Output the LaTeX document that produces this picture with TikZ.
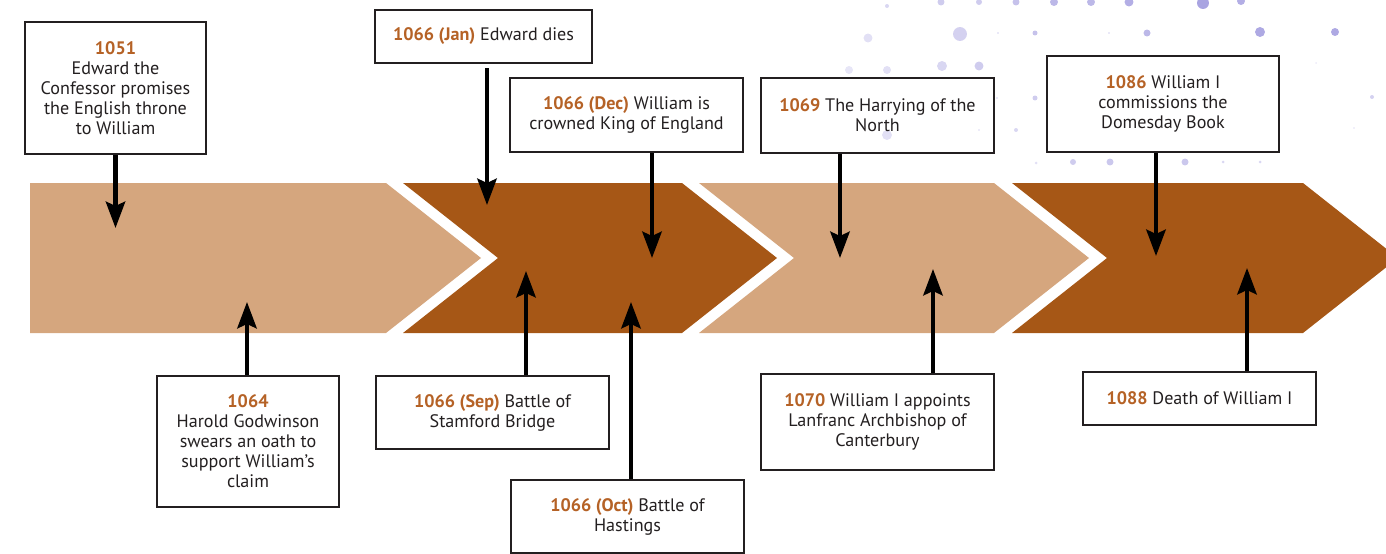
\documentclass[tikz,border=0pt]{standalone}
\usepackage{fontspec}
\setmainfont{PT Sans}
\usetikzlibrary{arrows.meta}
\definecolor{tanlight}{RGB}{213,166,126}
\definecolor{tandark}{RGB}{166,87,22}
\definecolor{yearcol}{RGB}{181,98,38}
\definecolor{inkcol}{RGB}{35,31,32}
\definecolor{dotcol}{RGB}{160,154,222}
\newcommand{\yr}[1]{\textcolor{yearcol}{\textbf{#1}}}
\begin{document}
\begin{tikzpicture}[x=0.02cm,y=-0.02cm,>={Stealth[length=15pt,width=11pt,inset=2.5pt]},
	font=\fontsize{10.3}{11.35}\selectfont,
	evbox/.style={draw=inkcol,line width=1.6pt,inner sep=0pt,align=center,text=inkcol},
	evarrow/.style={->,line width=2.3pt,black}]
	\useasboundingbox (0,0) rectangle (1386,554);
	\clip (0,0) rectangle (1386,554);
	
	% dots in the background
	\foreach \x/\y/\r/\o in {887/6/2/0.4, 941/2/3.5/0.5, 979/2/3/0.5, 1016/2/3.5/0.6, 1054/2/4/0.7, 1091/2/4/0.7,
		1129/2/4.5/0.8, 1203/3/6/0.9, 1241/1/4/0.8, 868/38/4.5/0.3, 960/34/7/0.45, 998/33/1.2/0.3,
		1035/33/2.5/0.6, 1109/33/1.2/0.3, 1147/33/3.5/0.7, 1260/32/5/0.85, 1335/32/4/0.85,
		849/70/4/0.25, 887/70/4/0.3, 942/66/5/0.4, 979/66/4.5/0.5, 997/98/1.2/0.3, 1035/98/2.5/0.5,
		1316/63/1/0.2, 1372/97/2/0.45, 1354/128/1.2/0.2, 887/135/5/0.3, 979/130/1.2/0.25,
		1016/130/2/0.4, 1036/163/1.5/0.3, 1073/162/3/0.5, 1110/162/3.5/0.55, 1185/162/3.5/0.55,
		1223/162/1.5/0.4, 1260/162/1.5/0.4}
		\fill[dotcol,opacity=\o] (\x,\y) circle[radius=\r*0.567pt];
	
	% chevrons
	\fill[tanlight] (30,183) -- (386,183) -- (481,258) -- (386,333) -- (30,333) -- cycle;
	\foreach \xl/\xr/\col in {403/682/tandark, 699/994/tanlight, 1012/1303/tandark}
		\fill[\col] (\xl,183) -- (\xr,183) -- (\xr+95,258) -- (\xr,333) -- (\xl,333) -- (\xl+95,258) -- cycle;
	
	% events above
	\node[evbox,minimum width=3.62cm,minimum height=2.64cm] (b1051) at (115.5,88)
		{\yr{1051}\\Edward the\\Confessor promises\\the English throne\\to William};
	\node[evbox,minimum width=4.34cm,minimum height=1.06cm] (bJan) at (483.5,36.5)
		{\yr{1066 (Jan)} Edward dies};
	\node[evbox,minimum width=4.66cm,minimum height=1.48cm] (bDec) at (626.5,115)
		{\yr{1066 (Dec)} William is\\crowned King of England};
	\node[evbox,minimum width=4.66cm,minimum height=1.5cm] (b1069) at (877.5,115.5)
		{\yr{1069} The Harrying of the\\North};
	\node[evbox,minimum width=4.64cm,minimum height=1.92cm] (b1086) at (1163,104)
		{\yr{1086} William I\\commissions the\\Domesday Book};
	
	% events below
	\node[evbox,minimum width=3.64cm,minimum height=2.62cm] (b1064) at (248,441.5)
		{\yr{1064}\\Harold Godwinson\\swears an oath to\\support William’s\\claim};
	\node[evbox,minimum width=4.66cm,minimum height=1.46cm] (bSep) at (492.5,412.5)
		{\yr{1066 (Sep)} Battle of\\Stamford Bridge};
	\node[evbox,minimum width=4.66cm,minimum height=1.46cm] (bOct) at (627.5,516.5)
		{\yr{1066 (Oct)} Battle of\\Hastings};
	\node[evbox,minimum width=4.66cm,minimum height=1.92cm] (b1070) at (877.5,422)
		{\yr{1070} William I appoints\\Lanfranc Archbishop of\\Canterbury};
	\node[evbox,minimum width=4.66cm,minimum height=1.06cm] (b1088) at (1199.5,398.5)
		{\yr{1088} Death of William I};
	
	% arrow tips on the band
	\coordinate (t1051) at (115.5,228);
	\coordinate (tJan) at (487,205);
	\coordinate (tDec) at (652,258);
	\coordinate (t1069) at (840,258);
	\coordinate (t1086) at (1156,256);
	\coordinate (t1064) at (247,302);
	\coordinate (tSep) at (526,271);
	\coordinate (tOct) at (631,302);
	\coordinate (t1070) at (933,269);
	\coordinate (t1088) at (1247,268);
	
	\draw[evarrow] (b1051.south -| t1051) -- (t1051);
	\draw[evarrow,shorten <=0.08cm] (bJan.south -| tJan) -- (tJan);
	\draw[evarrow] (bDec.south -| tDec) -- (tDec);
	\draw[evarrow] (b1069.south -| t1069) -- (t1069);
	\draw[evarrow] (b1086.south -| t1086) -- (t1086);
	\draw[evarrow] (b1064.north -| t1064) -- (t1064);
	\draw[evarrow] (bSep.north -| tSep) -- (tSep);
	\draw[evarrow] (bOct.north -| tOct) -- (tOct);
	\draw[evarrow] (b1070.north -| t1070) -- (t1070);
	\draw[evarrow] (b1088.north -| t1088) -- (t1088);
\end{tikzpicture}
\end{document}
